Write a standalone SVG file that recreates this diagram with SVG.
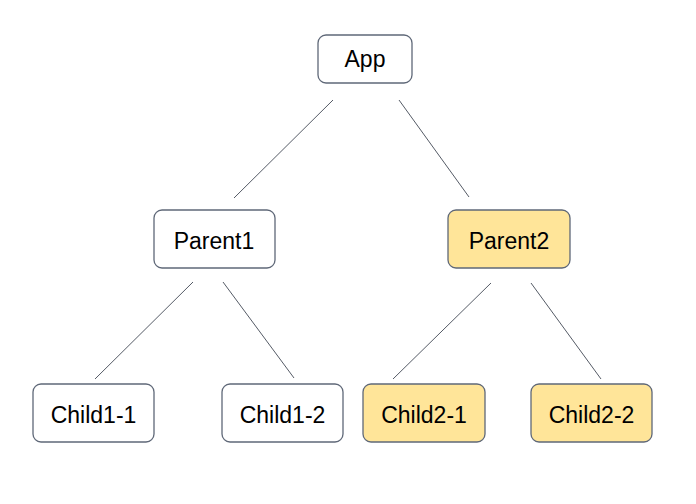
<svg xmlns="http://www.w3.org/2000/svg" width="696" height="504" viewBox="0 0 696 504">
<style>
.n rect{fill:#ffffff;stroke:#5f6878;stroke-width:1.3}
.n.h rect{fill:#ffe599}
.n text{font-family:"Liberation Sans",Arial,sans-serif;font-size:23px;fill:#000;text-anchor:middle}
.c line{stroke:#555b66;stroke-width:1}
</style>
<rect width="696" height="504" fill="#ffffff"/>
<g class="c" id="connectors">
<line x1="333" y1="100" x2="234" y2="198"/>
<line x1="399" y1="100" x2="469" y2="197"/>
<line x1="193" y1="282" x2="95" y2="379"/>
<line x1="223" y1="282" x2="294" y2="378"/>
<line x1="491" y1="283" x2="393" y2="379"/>
<line x1="531" y1="283" x2="601" y2="379"/>
</g>
<g class="n" id="app"><rect x="318" y="35" width="94" height="48" rx="8"/><text x="365" y="67">App</text></g>
<g class="n" id="parent1"><rect x="154" y="210" width="121" height="58" rx="8"/><text x="214" y="249">Parent1</text></g>
<g class="n h" id="parent2"><rect x="448" y="210" width="122" height="58" rx="8"/><text x="509" y="249">Parent2</text></g>
<g class="n" id="child1-1"><rect x="33" y="384" width="121" height="58" rx="8"/><text x="93.5" y="423">Child1-1</text></g>
<g class="n" id="child1-2"><rect x="222" y="384" width="121" height="58" rx="8"/><text x="282.5" y="423">Child1-2</text></g>
<g class="n h" id="child2-1"><rect x="363" y="384" width="122" height="58" rx="8"/><text x="424" y="423">Child2-1</text></g>
<g class="n h" id="child2-2"><rect x="531" y="384" width="121" height="58" rx="8"/><text x="591.5" y="423">Child2-2</text></g>
</svg>
